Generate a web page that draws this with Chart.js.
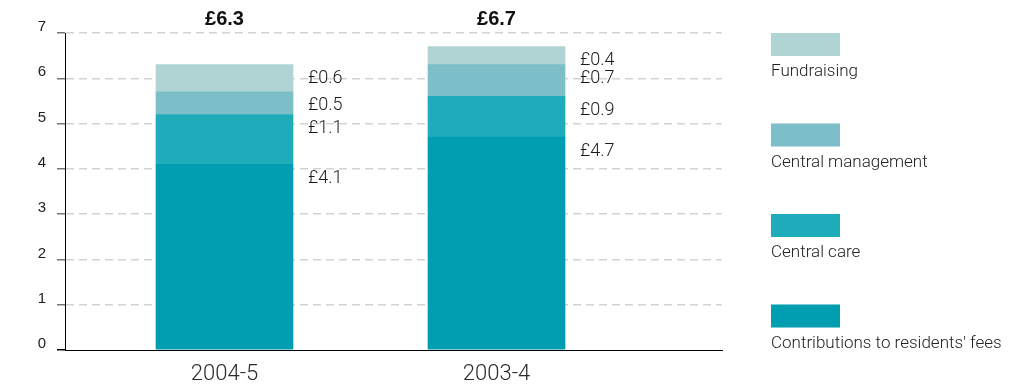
<!DOCTYPE html>
<html>
<head>
<meta charset="utf-8">
<script src="https://cdn.jsdelivr.net/npm/chart.js@4/dist/chart.umd.min.js"></script>
<style>
  html, body { margin: 0; padding: 0; background: #fff; }
  #wrap { width: 1025px; height: 385px; }
</style>
</head>
<body>
<div id="wrap"><canvas id="incomeChart" width="1025" height="385"></canvas></div>
<script>
const periods = ['2004-5', '2003-4'];
const seriesNames = ['Contributions to residents\' fees', 'Central care', 'Central management', 'Fundraising'];
const contributions = [4.1, 4.7];
const centralCare = [1.1, 0.9];
const centralManagement = [0.5, 0.7];
const fundraising = [0.6, 0.4];
const totals = ['£6.3', '£6.7'];
const yTicks = [0, 1, 2, 3, 4, 5, 6, 7];
const colours = ['#009eb0', '#1eabba', '#7cbfc8', '#b0d4d4'];

const seriesValues = [contributions, centralCare, centralManagement, fundraising];
const VALUE_FONT = '300 18px Roboto, "Liberation Sans", Arial, sans-serif';
const LEGEND_FONT = '300 17px Roboto, "Liberation Sans", Arial, sans-serif';

const toPoints = (vals) => vals.map((v, i) => ({ x: i + 1, y: v }));

// value labels, totals and the legend on the right
const annotations = {
  id: 'annotations',
  afterDraw(chart) {
    const ctx = chart.ctx;
    const yScale = chart.scales.y;
    const area = chart.chartArea;
    ctx.save();

    chart.data.datasets.forEach((ds, di) => {
      const meta = chart.getDatasetMeta(di);
      meta.data.forEach((bar, i) => {
        let top = 0;
        for (let k = 0; k <= di; k++) top += seriesValues[k][i];
        const y = yScale.getPixelForValue(top) + 14;
        ctx.font = VALUE_FONT;
        ctx.fillStyle = '#1a1a1a';
        ctx.textAlign = 'left';
        ctx.textBaseline = 'middle';
        ctx.fillText('£' + ds.data[i].y.toFixed(1), bar.x + bar.width / 2 + 15, y);
      });
    });

    const first = chart.getDatasetMeta(0);
    first.data.forEach((bar, i) => {
      ctx.font = 'bold 20px "Liberation Sans", Arial, sans-serif';
      ctx.fillStyle = '#111';
      ctx.textAlign = 'center';
      ctx.textBaseline = 'middle';
      ctx.fillText(totals[i], bar.x, area.top - 14);
    });

    // legend, top item is the top of the stack
    const order = chart.data.datasets.map((d, i) => i).reverse();
    order.forEach((di, row) => {
      const ds = chart.data.datasets[di];
      const y0 = area.top + row * 90.5;
      ctx.fillStyle = ds.backgroundColor;
      ctx.fillRect(771, y0, 69, 23);
      ctx.font = LEGEND_FONT;
      ctx.fillStyle = '#222';
      ctx.textAlign = 'left';
      ctx.textBaseline = 'middle';
      ctx.fillText(ds.label, 771, y0 + 39);
    });
    ctx.restore();
  }
};

new Chart(document.getElementById('incomeChart').getContext('2d'), {
  type: 'bar',
  data: {
    datasets: seriesNames.map((name, i) => ({
      label: name,
      data: toPoints(seriesValues[i]),
      backgroundColor: colours[i],
      borderWidth: 0,
      barThickness: 137,
    })),
  },
  options: {
    responsive: false,
    animation: false,
    layout: { padding: { left: 0, right: 303, top: 33, bottom: 0 } },
    plugins: {
      legend: { display: false },
      tooltip: { enabled: false },
    },
    scales: {
      x: {
        type: 'linear',
        stacked: true,
        offset: false,
        min: 0.4136,
        max: 2.829,
        afterBuildTicks: (axis) => {
          axis.ticks = periods.map((p, i) => ({ value: i + 1 }));
        },
        afterFit: (scale) => { scale.height = 35; },
        grid: { display: false, drawTicks: false },
        border: { display: true, color: '#000', width: 1 },
        ticks: {
          autoSkip: false,
          maxRotation: 0,
          padding: 11,
          color: '#2a2a2a',
          font: { family: 'Roboto, "Liberation Sans", Arial, sans-serif', size: 22, weight: '300' },
          callback: (v) => periods[v - 1] || '',
        },
      },
      y: {
        stacked: true,
        min: 0,
        max: 7,
        afterBuildTicks: (axis) => {
          axis.ticks = yTicks.map((v) => ({ value: v }));
        },
        afterFit: (scale) => { scale.width = 65; },
        border: { display: true, color: '#000', width: 1, dash: [8, 5] },
        grid: {
          color: (c) => (c.tick && c.tick.value === 0 ? 'rgba(0,0,0,0)' : '#d3d3d3'),
          lineWidth: 1.5,
          tickLength: 8,
          tickColor: (c) => (c.tick && c.tick.value === 0 ? '#000' : '#777'),
          tickBorderDash: [],
          tickWidth: 1.5,
        },
        ticks: {
          padding: 11,
          labelOffset: -6,
          color: '#222',
          font: { family: '"Liberation Sans", Arial, sans-serif', size: 15 },
        },
      },
    },
  },
  plugins: [annotations],
});
</script>
</body>
</html>
